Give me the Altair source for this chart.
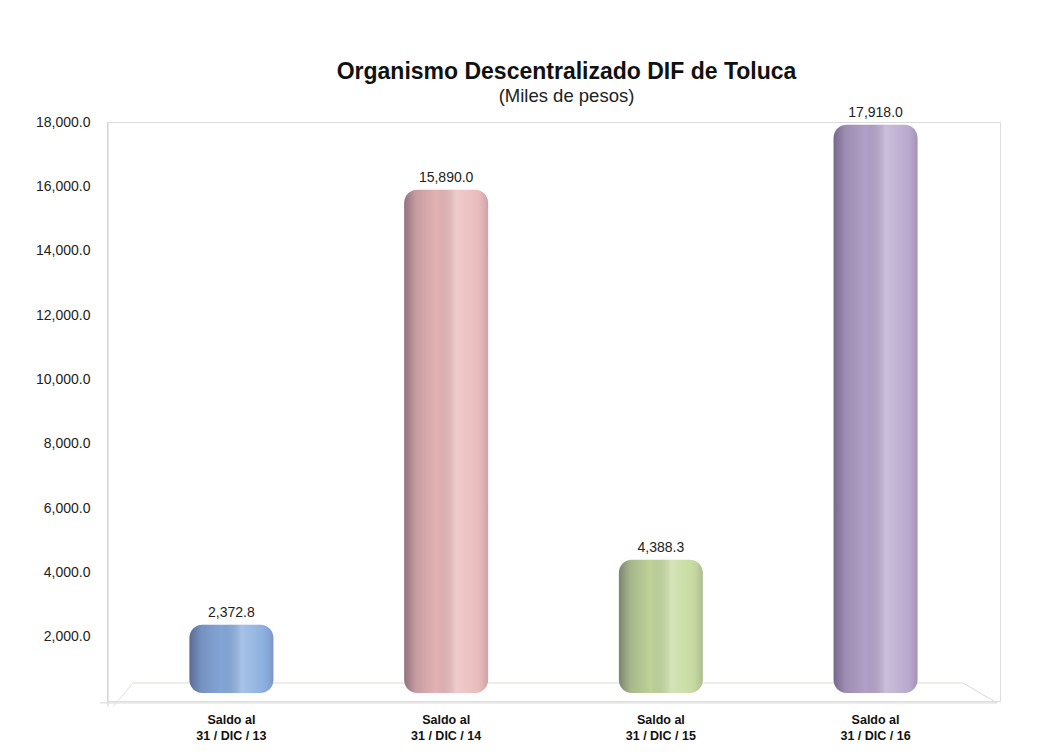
import altair as alt
import pandas as pd

categories = ["Saldo al\n31 / DIC / 13", "Saldo al\n31 / DIC / 14", "Saldo al\n31 / DIC / 15", "Saldo al\n31 / DIC / 16"]
values = [2372.8, 15890.0, 4388.3, 17918.0]
labels = ["2,372.8", "15,890.0", "4,388.3", "17,918.0"]
colors = ["#86ABDD", "#E9B8B8", "#C4D99C", "#B6A5CC"]
y_ticks = [2000, 4000, 6000, 8000, 10000, 12000, 14000, 16000, 18000]

df = pd.DataFrame({"cat": categories, "val": values, "lab": labels})

FONT = "Liberation Sans"

xenc = alt.X(
    "cat:N",
    sort=categories,
    scale=alt.Scale(paddingInner=0.609, paddingOuter=0.384),
    axis=alt.Axis(
        title=None, labelAngle=0, domain=False, ticks=False,
        labelExpr="split(datum.label, '\\n')",
        labelFont=FONT, labelFontSize=12.5, labelFontWeight="bold",
        labelColor="#111111", labelPadding=12, labelLineHeight=16,
    ),
)
yscale = alt.Scale(domain=[0, 18000], nice=False, zero=True)
yenc = alt.Y(
    "val:Q",
    scale=yscale,
    axis=alt.Axis(
        title=None, values=y_ticks, format=",.1f", grid=False, domain=False,
        ticks=False, labelPadding=17, labelFont=FONT, labelFontSize=14,
        labelColor="#222222",
    ),
)

base = alt.Chart(df)

bars = base.mark_bar(cornerRadius=13).encode(
    x=xenc, y=yenc, y2=alt.datum(250),
    color=alt.Color("cat:N", scale=alt.Scale(domain=categories, range=colors), legend=None),
)

shade = base.mark_bar(
    cornerRadius=13,
    color=alt.Gradient(
        gradient="linear", x1=0, x2=1, y1=0, y2=0,
        stops=[
            alt.GradientStop(color="rgba(40,30,60,0.45)", offset=0),
            alt.GradientStop(color="rgba(40,30,60,0.18)", offset=0.14),
            alt.GradientStop(color="rgba(40,30,60,0.04)", offset=0.38),
            alt.GradientStop(color="rgba(255,255,255,0.28)", offset=0.62),
            alt.GradientStop(color="rgba(255,255,255,0.08)", offset=0.86),
            alt.GradientStop(color="rgba(40,30,60,0.15)", offset=1),
        ],
    ),
).encode(x=xenc, y=yenc, y2=alt.datum(250))

text = base.mark_text(
    baseline="bottom", dy=-5, font=FONT, fontSize=14, color="#222222"
).encode(x=xenc, y=alt.Y("val:Q", scale=yscale), text="lab:N")

# decorative axis line and floor
one = pd.DataFrame({"a": [0]})
axis_line = alt.Chart(one).mark_rule(color="#d0d0d0", strokeWidth=1).encode(
    x=alt.value(1), y=alt.datum(18000), y2=alt.datum(-180)
)
floor_back = alt.Chart(one).mark_rule(color="#d8dcd0", strokeWidth=1).encode(
    x=alt.value(26), x2=alt.value(856), y=alt.datum(560)
)
floor_front = alt.Chart(one).mark_rule(color="#d6d6d6", strokeWidth=1).encode(
    x=alt.value(-7), x2=alt.value(890), y=alt.datum(-60)
)
floor_left = alt.Chart(one).mark_rule(color="#e0e0e0", strokeWidth=1).encode(
    x=alt.value(6), x2=alt.value(26), y=alt.datum(-180), y2=alt.datum(560)
)
floor_right = alt.Chart(one).mark_rule(color="#d8d8d8", strokeWidth=1).encode(
    x=alt.value(856), x2=alt.value(890), y=alt.datum(560), y2=alt.datum(-60)
)

chart = alt.layer(
    axis_line, floor_back, floor_front, floor_left, floor_right, bars, shade, text
).properties(
    width=893,
    height=579,
    padding={"left": 99, "top": 114, "right": 30, "bottom": 45},
    autosize=alt.AutoSizeParams(type="none"),
    title=alt.TitleParams(
        text="Organismo Descentralizado DIF de Toluca",
        subtitle="(Miles de pesos)",
        anchor="middle", dx=13, offset=0,
        font=FONT, fontSize=23, fontWeight="bold", color="#111111",
        subtitleFont=FONT, subtitleFontSize=18.5, subtitleColor="#222222",
        subtitlePadding=3,
    ),
).configure_view(stroke=None).configure(background="white")

chart.save("out.html", embed_options={"renderer": "svg", "actions": False})
